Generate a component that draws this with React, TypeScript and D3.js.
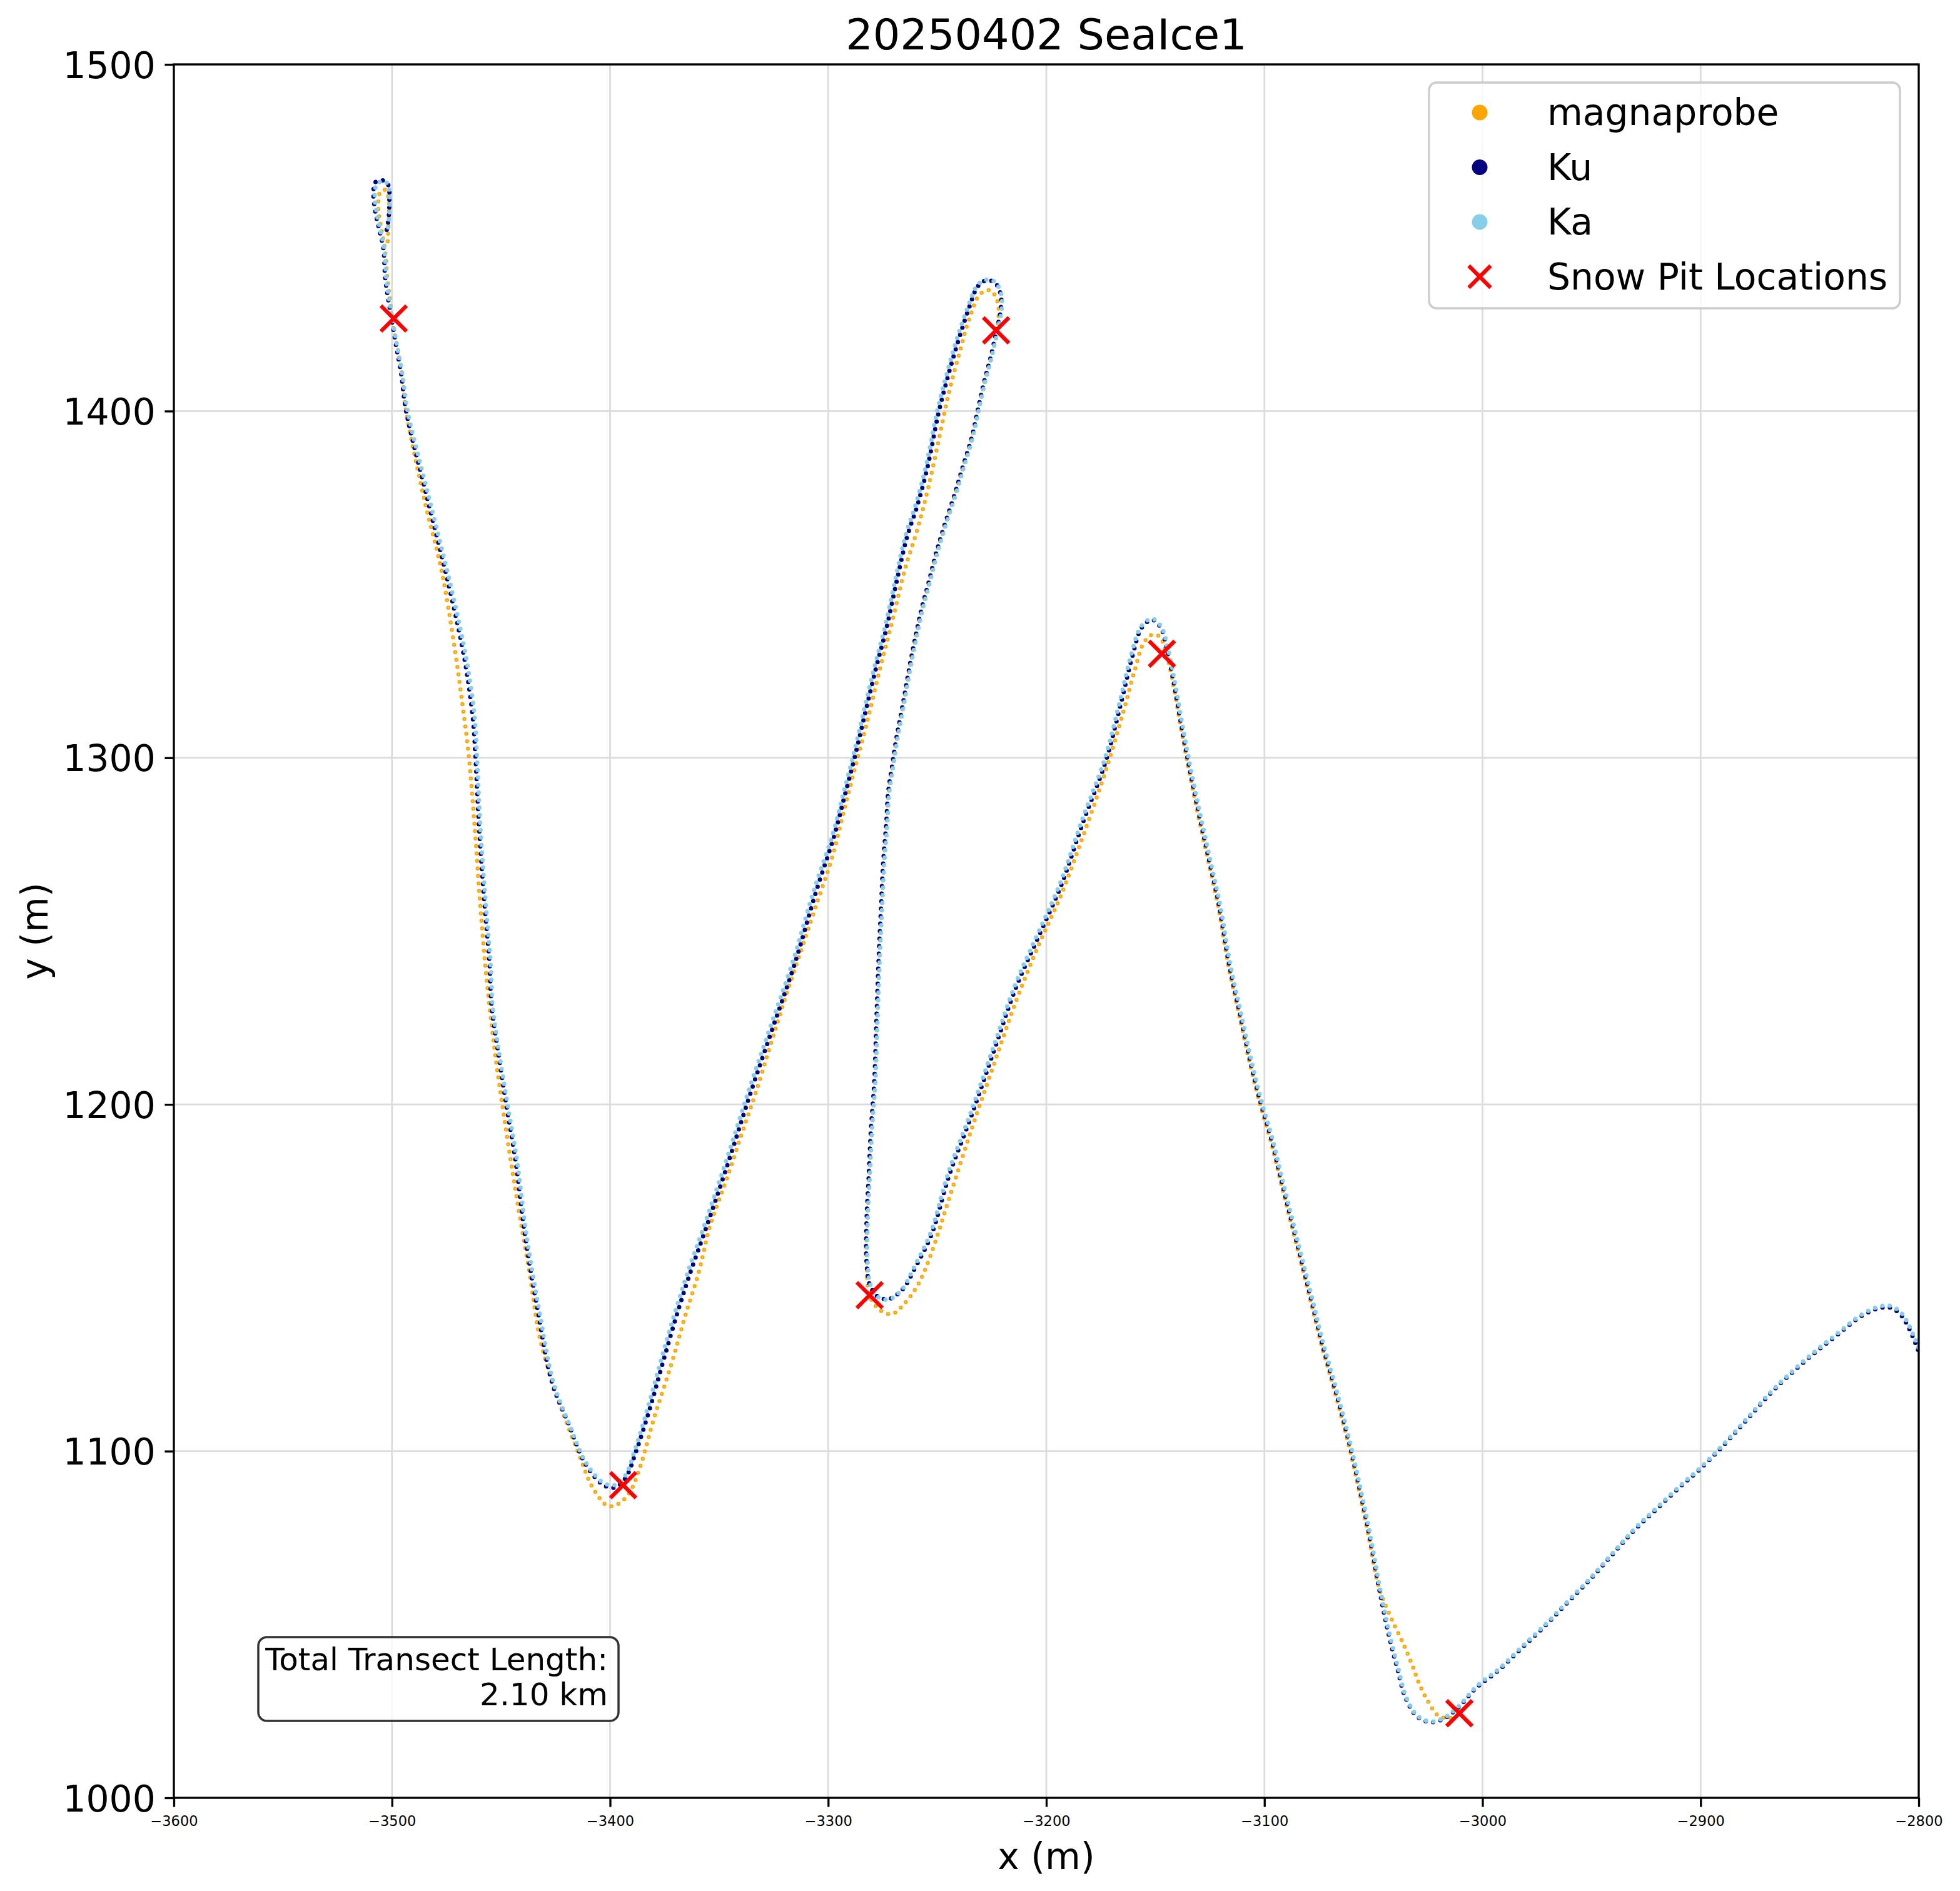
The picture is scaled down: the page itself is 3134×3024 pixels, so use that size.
"use client";
import { useEffect, useRef } from "react";
import * as d3 from "d3";

type Pt = [number, number];

// track positions (x, y in m)
const magnaprobe: Pt[] = [
  [-3502, 1449], [-3501.4, 1456], [-3501.6, 1461.5], [-3503.2, 1463.8], [-3505.3, 1463.3],
  [-3506.3, 1459], [-3505, 1453], [-3503.2, 1446.5], [-3502.2, 1439], [-3500.9, 1432],
  [-3499.8, 1426], [-3497.4, 1418], [-3495.2, 1410], [-3493.5, 1400], [-3485.4, 1375.1],
  [-3477.2, 1353.8], [-3471.5, 1332.6], [-3467.7, 1315.5], [-3464.8, 1300.6], [-3462, 1279.4],
  [-3459.6, 1258.1], [-3456.7, 1236.8], [-3452.9, 1215.5], [-3448.1, 1194.3], [-3442.8, 1173],
  [-3437, 1151.7], [-3431.8, 1131.5], [-3422.1, 1112], [-3414.1, 1098.8], [-3408, 1089.5],
  [-3401, 1084.2], [-3396, 1084.9], [-3390.9, 1088.2], [-3385.9, 1096.1], [-3379.9, 1109.4],
  [-3371.8, 1125.3], [-3365.8, 1138.5], [-3359.3, 1151.7], [-3354.2, 1164.9], [-3346.7, 1178.2],
  [-3339.7, 1191.4], [-3332.6, 1204.6], [-3326.1, 1217.9], [-3319.5, 1231.1], [-3312.5, 1244.3],
  [-3305.5, 1257.5], [-3298.4, 1270.8], [-3292.5, 1285.4], [-3287.8, 1296.9], [-3282, 1310.7],
  [-3276.3, 1325.6], [-3270.6, 1339.4], [-3264.8, 1354.4], [-3259.1, 1365.9], [-3254.3, 1377.4],
  [-3249.5, 1391.1], [-3244.8, 1404.9], [-3240, 1416.4], [-3235.2, 1426.8], [-3230.4, 1433.7],
  [-3225.6, 1434.8], [-3222.3, 1431.4], [-3222.3, 1424], [-3225.2, 1415.5], [-3228.2, 1408.6],
  [-3231, 1400.5], [-3234, 1392.5], [-3237.8, 1384.5], [-3241.6, 1376.4], [-3246.3, 1367.2],
  [-3250.2, 1359.2], [-3253.5, 1351], [-3256.9, 1343], [-3259.7, 1335], [-3262.6, 1325.8],
  [-3265.5, 1315.5], [-3268.3, 1306.3], [-3270.3, 1298.2], [-3272.2, 1290.2], [-3273.1, 1281],
  [-3274.4, 1269.6], [-3275.4, 1256.3], [-3276.4, 1243.1], [-3277.4, 1225.9], [-3278.5, 1206.1],
  [-3280, 1192.8], [-3281, 1179.6], [-3282, 1166.4], [-3282.4, 1155.8], [-3280.4, 1143.9],
  [-3274.2, 1139.9], [-3270.1, 1139.7], [-3265, 1142.6], [-3258.9, 1147.9], [-3252.7, 1157.1],
  [-3244.5, 1173], [-3234.3, 1192.8], [-3224.1, 1211.4], [-3213.8, 1229.9], [-3203.6, 1245.8],
  [-3193.3, 1260.3], [-3183.1, 1277.5], [-3172.9, 1296], [-3164.7, 1313.2], [-3159.5, 1325.2],
  [-3155.2, 1333.3], [-3151.4, 1335.5], [-3148.1, 1335], [-3145.2, 1330.7], [-3142.2, 1322.5],
  [-3138.3, 1308.8], [-3135.5, 1299.4], [-3130.8, 1284.7], [-3126, 1271], [-3121.2, 1257.2],
  [-3116.5, 1240], [-3111.7, 1226.2], [-3106.9, 1212.4], [-3102.1, 1200.3], [-3097.3, 1190],
  [-3092.6, 1177.9], [-3087.8, 1165.8], [-3083, 1153.8], [-3078.2, 1141.7], [-3073.4, 1129.6],
  [-3068.7, 1119.3], [-3061.4, 1101.9], [-3056.2, 1087.4], [-3052.1, 1075], [-3047.5, 1060.7],
  [-3042.3, 1052.4], [-3036.1, 1044.1], [-3032, 1037.9], [-3028.9, 1032.7], [-3024.7, 1027.5],
  [-3020.6, 1023.9], [-3015.4, 1022.9], [-3012.5, 1023.6],
];

const kuTrack: Pt[] = [
  [-3502.4, 1452.3], [-3501.5, 1455.8], [-3501.2, 1461.3], [-3501.6, 1465.1], [-3503.9, 1466.5],
  [-3507.5, 1466.1], [-3508.5, 1463.4], [-3507.7, 1457.8], [-3505.8, 1452.3], [-3503.9, 1446.8],
  [-3503.1, 1438.5], [-3501.7, 1432.3], [-3500.2, 1426.8], [-3498, 1418.5], [-3495.8, 1410.9],
  [-3493.5, 1400], [-3483.9, 1375.1], [-3473.9, 1349.6], [-3466.7, 1328.3], [-3462.9, 1311.3],
  [-3461.7, 1300], [-3460, 1279.4], [-3457.6, 1258.1], [-3455.3, 1241.1], [-3454.3, 1228.3],
  [-3451.4, 1215.5], [-3447.6, 1200], [-3443.3, 1183.6], [-3439, 1162.3], [-3433.3, 1141.1],
  [-3426.6, 1119.8], [-3419.1, 1108], [-3411.1, 1096.1], [-3403, 1090.2], [-3398, 1089.5],
  [-3393, 1092.2], [-3388, 1100.1], [-3381.9, 1112], [-3375.9, 1125.3], [-3369.8, 1138.5],
  [-3363.8, 1150.4], [-3355.7, 1164.9], [-3345.7, 1183.5], [-3335.6, 1203.3], [-3325.6, 1221.8],
  [-3315.5, 1240.3], [-3305.5, 1261.5], [-3297.3, 1277.4], [-3292.5, 1288.9], [-3287.8, 1300.3],
  [-3283, 1313], [-3278.2, 1325.6], [-3273.4, 1337.1], [-3268.6, 1350.9], [-3263.9, 1363.6],
  [-3259.1, 1372.8], [-3254.3, 1384.3], [-3249.5, 1399.2], [-3244.8, 1410.7], [-3240, 1421],
  [-3235.2, 1430.2], [-3231.4, 1436], [-3227.6, 1437.7], [-3223.7, 1437.1], [-3220.9, 1433.7],
  [-3220.9, 1429.1], [-3222.8, 1423.3], [-3225.6, 1415.3], [-3228.5, 1408.4], [-3231.4, 1400.3],
  [-3234.2, 1392.3], [-3238.1, 1384.3], [-3241.9, 1376.2], [-3246.7, 1367], [-3250.5, 1359],
  [-3253.8, 1350.9], [-3257.2, 1342.9], [-3260, 1334.8], [-3262.9, 1325.6], [-3265.8, 1315.3],
  [-3268.6, 1306.1], [-3270.6, 1298], [-3272.5, 1290], [-3273.4, 1280.8], [-3274.8, 1269.6],
  [-3275.8, 1256.3], [-3276.8, 1243.1], [-3277.8, 1225.9], [-3278.9, 1206.1], [-3280.4, 1192.8],
  [-3281.4, 1179.6], [-3282.4, 1166.4], [-3282.4, 1154.5], [-3280.9, 1147.9], [-3277.3, 1144.6],
  [-3272.2, 1143.9], [-3266.1, 1146.5], [-3259.9, 1153.2], [-3252.7, 1162.4], [-3244.5, 1179.6],
  [-3234.3, 1196.8], [-3224.1, 1215.3], [-3213.8, 1233.9], [-3203.6, 1248.4], [-3193.3, 1263],
  [-3183.1, 1281.5], [-3172.9, 1298.7], [-3165.7, 1315.9], [-3160.6, 1329.1], [-3156.2, 1337.6],
  [-3151.4, 1339.8], [-3147.6, 1337.6], [-3144.7, 1331.6], [-3141.9, 1322.9], [-3138, 1309.1],
  [-3135.2, 1299.7], [-3130.4, 1285], [-3125.6, 1271.2], [-3120.8, 1257.4], [-3116.1, 1240.2],
  [-3111.3, 1226.4], [-3106.5, 1212.6], [-3101.7, 1200.5], [-3096.9, 1190.2], [-3092.2, 1178.1],
  [-3087.4, 1166], [-3082.6, 1154], [-3077.8, 1141.9], [-3073, 1129.8], [-3068.3, 1119.5],
  [-3061, 1102.1], [-3055.8, 1087.6], [-3051.7, 1075.2], [-3047.5, 1060.7], [-3043.4, 1048.2],
  [-3039.3, 1037.9], [-3035.1, 1028.6], [-3029.9, 1023.4], [-3023.7, 1021.8], [-3017.5, 1022.9],
  [-3011.2, 1026], [-3002.9, 1031.7], [-2992.6, 1036.8], [-2982.2, 1043.1], [-2971.8, 1049.3],
  [-2961.5, 1056], [-2951.1, 1062.7], [-2940.7, 1070], [-2930.4, 1077.2], [-2920, 1083.4],
  [-2909.6, 1089.6], [-2900.3, 1094.8], [-2888.9, 1102.1], [-2878.5, 1109.3], [-2868.1, 1116.6],
  [-2857.8, 1122.8], [-2847.4, 1128.5], [-2837, 1133.7], [-2826.7, 1138.8], [-2818.4, 1141.2],
  [-2813.2, 1141.4], [-2809.1, 1139.9], [-2806, 1137.3], [-2802.8, 1133.1], [-2800.5, 1129.5],
  [-2797.6, 1124.8],
];

const kaTrack: Pt[] = [
  [-3502, 1452], [-3501.2, 1456], [-3501, 1461.5], [-3501.8, 1465.3], [-3503.6, 1466.3],
  [-3506.8, 1465.6], [-3507.9, 1462.8], [-3507.1, 1457.5], [-3505.2, 1452], [-3503.5, 1446.5],
  [-3502.6, 1438.2], [-3501.2, 1432], [-3499.8, 1426.5], [-3497.5, 1418.2], [-3495.2, 1410.5],
  [-3492.8, 1400], [-3483, 1375], [-3473, 1349.5], [-3465.8, 1328.2], [-3462, 1311.2],
  [-3461, 1300], [-3459.4, 1279.4], [-3457, 1258], [-3454.8, 1241], [-3453.8, 1228.2],
  [-3451, 1215.4], [-3447, 1200], [-3442.6, 1183.5], [-3438.3, 1162.2], [-3432.6, 1141],
  [-3425.9, 1119.7], [-3418.6, 1107.6], [-3410.8, 1096.4], [-3402.9, 1090.8], [-3398, 1090.2],
  [-3393.2, 1092.8], [-3388.5, 1100.6], [-3382.6, 1112.8], [-3376.7, 1126.1], [-3370.6, 1139.3],
  [-3364.6, 1151.2], [-3356.5, 1165.7], [-3346.5, 1184.3], [-3336.4, 1204.1], [-3326.4, 1222.6],
  [-3316.3, 1241.1], [-3306.3, 1262.3], [-3297.9, 1278], [-3293.1, 1289.5], [-3288.4, 1300.9],
  [-3283.6, 1313.6], [-3278.8, 1326.2], [-3274, 1337.7], [-3269.2, 1351.5], [-3264.5, 1364.2],
  [-3259.7, 1373.4], [-3254.9, 1384.9], [-3250.1, 1399.8], [-3245.4, 1411.3], [-3240.6, 1421.6],
  [-3235.6, 1430.6], [-3231.6, 1436.3], [-3227.6, 1437.9], [-3223.5, 1437.2], [-3220.6, 1433.6],
  [-3220.5, 1429], [-3222.4, 1423.2], [-3225.2, 1415.2], [-3228.1, 1408.3], [-3231, 1400.2],
  [-3233.8, 1392.2], [-3237.6, 1384.2], [-3241.4, 1376.1], [-3246.2, 1366.9], [-3250, 1358.9],
  [-3253.3, 1350.8], [-3256.7, 1342.8], [-3259.5, 1334.7], [-3262.4, 1325.5], [-3265.3, 1315.2],
  [-3268.1, 1306], [-3270.1, 1297.9], [-3272, 1289.9], [-3272.9, 1280.7], [-3274.3, 1269.5],
  [-3275.3, 1256.2], [-3276.3, 1243], [-3277.3, 1225.8], [-3278.4, 1206], [-3279.9, 1192.7],
  [-3280.9, 1179.5], [-3281.9, 1166.3], [-3281.9, 1154.3], [-3280.4, 1147.5], [-3277, 1144.4],
  [-3272, 1143.8], [-3266.2, 1146.6], [-3260.2, 1153.6], [-3253.1, 1162.9], [-3245, 1180.2],
  [-3234.8, 1197.4], [-3224.6, 1215.9], [-3214.3, 1234.5], [-3204.1, 1249], [-3193.8, 1263.6],
  [-3183.6, 1282.1], [-3173.4, 1299.3], [-3166.2, 1316.5], [-3161.1, 1329.7], [-3156.4, 1338],
  [-3151.4, 1340.1], [-3147.3, 1337.8], [-3144.3, 1331.7], [-3141.4, 1323], [-3137.5, 1309.2],
  [-3134.7, 1299.8], [-3129.9, 1285.1], [-3125.1, 1271.3], [-3120.3, 1257.5], [-3115.6, 1240.3],
  [-3110.8, 1226.5], [-3106, 1212.7], [-3101.2, 1200.6], [-3096.4, 1190.3], [-3091.7, 1178.2],
  [-3086.9, 1166.1], [-3082.1, 1154.1], [-3077.3, 1142], [-3072.5, 1129.9], [-3067.8, 1119.6],
  [-3060.6, 1102.2], [-3055.4, 1087.7], [-3051.3, 1075.3], [-3047.1, 1060.8], [-3043, 1048.3],
  [-3038.9, 1038], [-3034.8, 1028.8], [-3029.7, 1023.6], [-3023.6, 1022], [-3017.3, 1023.2],
  [-3011, 1026.4], [-3002.6, 1032.2], [-2992.3, 1037.3], [-2981.9, 1043.6], [-2971.5, 1049.8],
  [-2961.2, 1056.5], [-2950.8, 1063.2], [-2940.4, 1070.5], [-2930.1, 1077.7], [-2919.7, 1083.9],
  [-2909.3, 1090.1], [-2900, 1095.3], [-2888.6, 1102.6], [-2878.2, 1109.8], [-2867.8, 1117.1],
  [-2857.5, 1123.3], [-2847.1, 1129], [-2836.7, 1134.2], [-2826.4, 1139.3], [-2818.2, 1141.7],
  [-2813, 1141.9], [-2808.8, 1140.4], [-2805.7, 1137.8], [-2802.5, 1133.6], [-2800.2, 1130],
  [-2797.3, 1125.3],
];

const pitX = [-3499.2, -3223, -3147, -3281, -3394, -3010.6];
const pitY = [1426.7, 1423.3, 1330, 1145, 1090.2, 1024.4];

const xTicks = [-3600, -3500, -3400, -3300, -3200, -3100, -3000, -2900, -2800];
const yTicks = [1000, 1100, 1200, 1300, 1400, 1500];

const legendLabels = ["magnaprobe", "Ku", "Ka", "Snow Pit Locations"];
const legendColors = ["orange", "navy", "skyblue", "red"];

const transectKm = 2.1;
const title = "20250402 SeaIce1";

const W = 3134;
const H = 3024;
const FONT = "DejaVu Sans, Liberation Sans, sans-serif";

export default function App() {
  const ref = useRef<SVGSVGElement | null>(null);

  useEffect(() => {
    if (!ref.current) return;
    const svg = d3.select(ref.current);
    svg.selectAll("*").remove();
    svg.append("rect").attr("width", W).attr("height", H).attr("fill", "white");

    const x = d3.scaleLinear().domain([-3600, -2800]).range([278, 3068]);
    const y = d3.scaleLinear().domain([1000, 1500]).range([2875, 103]);
    const [x0, x1] = x.range();
    const [y1, y0] = y.range();

    svg
      .append("defs")
      .append("clipPath")
      .attr("id", "plot-clip")
      .append("rect")
      .attr("x", x0)
      .attr("y", y0)
      .attr("width", x1 - x0)
      .attr("height", y1 - y0);

    // grid
    const grid = svg.append("g").attr("stroke", "#dcdcdc").attr("stroke-width", 2.8);
    grid
      .selectAll("line.gx")
      .data(xTicks)
      .join("line")
      .attr("class", "gx")
      .attr("x1", (d) => x(d))
      .attr("x2", (d) => x(d))
      .attr("y1", y0)
      .attr("y2", y1);
    grid
      .selectAll("line.gy")
      .data(yTicks)
      .join("line")
      .attr("class", "gy")
      .attr("x1", x0)
      .attr("x2", x1)
      .attr("y1", (d) => y(d))
      .attr("y2", (d) => y(d));

    const line = d3
      .line<Pt>()
      .x((d) => x(d[0]))
      .y((d) => y(d[1]))
      .curve(d3.curveCatmullRom.alpha(0.5));

    const data = svg.append("g").attr("clip-path", "url(#plot-clip)").attr("fill", "none");

    const dotted = (pts: Pt[], color: string, width: number, offset: number) =>
      data
        .append("path")
        .attr("d", line(pts))
        .attr("stroke", color)
        .attr("stroke-width", width)
        .attr("stroke-linecap", "round")
        .attr("stroke-dasharray", "0 12")
        .attr("stroke-dashoffset", offset);

    dotted(magnaprobe, "orange", 6.5, 0);
    dotted(magnaprobe, "#ffd589", 2.2, 0);
    dotted(kuTrack, "navy", 7, 0);
    dotted(kaTrack, "skyblue", 7, 6);

    const xMark = (s: number) => `M${-s},${-s}L${s},${s}M${-s},${s}L${s},${-s}`;

    data
      .selectAll("path.pit")
      .data(pitX.map((px, i) => [px, pitY[i]] as Pt))
      .join("path")
      .attr("class", "pit")
      .attr("transform", (d) => `translate(${x(d[0])},${y(d[1])})`)
      .attr("d", xMark(20.5))
      .attr("stroke", "red")
      .attr("stroke-width", 6.25);

    // axes
    const xAxis = svg
      .append("g")
      .attr("transform", `translate(0,${y1})`)
      .call(
        d3
          .axisBottom(x)
          .tickValues(xTicks)
          .tickSize(14.6)
          .tickSizeOuter(0)
          .tickPadding(14.6)
          .tickFormat(d3.format("d") as any)
      );
    xAxis.select(".domain").remove();
    xAxis.selectAll("line").attr("stroke", "black").attr("stroke-width", 3.3);
    xAxis.selectAll("text").attr("font-family", FONT).attr("font-size", 22.5).attr("fill", "black");

    const yAxis = svg
      .append("g")
      .attr("transform", `translate(${x0},0)`)
      .call(
        d3
          .axisLeft(y)
          .tickValues(yTicks)
          .tickSize(14.6)
          .tickSizeOuter(0)
          .tickPadding(14.6)
          .tickFormat(d3.format("d") as any)
      );
    yAxis.select(".domain").remove();
    yAxis.selectAll("line").attr("stroke", "black").attr("stroke-width", 3.3);
    yAxis
      .selectAll("text")
      .attr("font-family", FONT)
      .attr("font-size", 58.3)
      .attr("fill", "black")
      .attr("dy", "0.36em");

    svg
      .append("rect")
      .attr("x", x0)
      .attr("y", y0)
      .attr("width", x1 - x0)
      .attr("height", y1 - y0)
      .attr("fill", "none")
      .attr("stroke", "black")
      .attr("stroke-width", 3.3);

    // title + labels
    const cx = (x0 + x1) / 2;
    svg
      .append("text")
      .attr("x", cx)
      .attr("y", 79)
      .attr("text-anchor", "middle")
      .attr("font-family", FONT)
      .attr("font-size", 68.5)
      .text(title);
    svg
      .append("text")
      .attr("x", cx)
      .attr("y", 2989)
      .attr("text-anchor", "middle")
      .attr("font-family", FONT)
      .attr("font-size", 58.3)
      .text("x (m)");
    svg
      .append("text")
      .attr("transform", `translate(76,${(y0 + y1) / 2}) rotate(-90)`)
      .attr("text-anchor", "middle")
      .attr("font-family", FONT)
      .attr("font-size", 58.3)
      .text("y (m)");

    // legend
    const lg = svg.append("g").attr("transform", `translate(${x1 - 783},${y0 + 29})`);
    lg.append("rect")
      .attr("width", 753)
      .attr("height", 361)
      .attr("rx", 12)
      .attr("fill", "white")
      .attr("fill-opacity", 0.8)
      .attr("stroke", "#cccccc")
      .attr("stroke-width", 3.3);
    const row = lg
      .selectAll("g.row")
      .data(legendLabels)
      .join("g")
      .attr("class", "row")
      .attr("transform", (_d, i) => `translate(0,${48 + i * 87.5})`);
    row
      .filter((_d, i) => i < 3)
      .append("circle")
      .attr("cx", 81)
      .attr("r", 12.5)
      .attr("fill", (_d, i) => legendColors[i]);
    row
      .filter((_d, i) => i === 3)
      .append("path")
      .attr("transform", "translate(81,0)")
      .attr("d", xMark(17.5))
      .attr("stroke", legendColors[3])
      .attr("stroke-width", 6.25)
      .attr("fill", "none");
    row
      .append("text")
      .attr("x", 189)
      .attr("y", 20)
      .attr("font-family", FONT)
      .attr("font-size", 58.3)
      .text((d) => d);

    // transect length box
    const tb = svg.append("g").attr("transform", `translate(413,2618)`);
    tb.append("rect")
      .attr("width", 576)
      .attr("height", 134)
      .attr("rx", 14)
      .attr("fill", "white")
      .attr("fill-opacity", 0.8)
      .attr("stroke", "#333333")
      .attr("stroke-width", 3.5);
    tb.append("text")
      .attr("text-anchor", "end")
      .attr("font-family", FONT)
      .attr("font-size", 50)
      .selectAll("tspan")
      .data(["Total Transect Length:", `${transectKm.toFixed(2)} km`])
      .join("tspan")
      .attr("x", 559)
      .attr("y", (_d, i) => 53 + i * 56)
      .text((d) => d);
  }, []);

  return (
    <svg
      ref={ref}
      width={W}
      height={H}
      style={{ position: "absolute", left: 0, top: 0, display: "block" }}
    />
  );
}
